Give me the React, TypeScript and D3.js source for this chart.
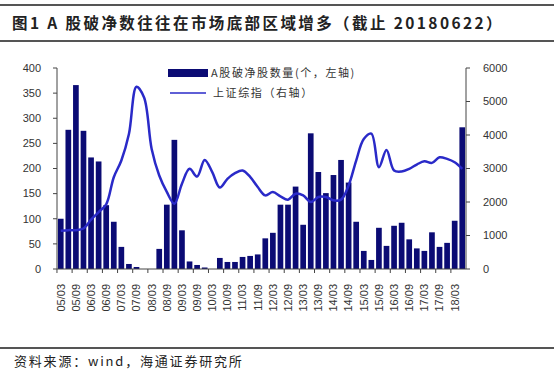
import React from 'react'
import * as d3 from 'd3'

// quarter-end dates, 2005Q1 .. 2018Q2
const quarters: string[] = []
for (let y = 5; y <= 18; y++) {
  for (const m of ['03', '06', '09', '12']) {
    if (y === 18 && (m === '09' || m === '12')) continue
    quarters.push(`${String(y).padStart(2, '0')}/${m}`)
  }
}

// A股破净股数量（个，左轴）
const pbBelowOne = [
  100, 277, 366, 275, 222, 214, 127, 94, 44, 10, 4, 0, 0, 40, 128, 257,
  77, 15, 8, 3, 0, 22, 14, 14, 24, 26, 29, 61, 72, 128, 128, 164,
  88, 270, 193, 151, 187, 217, 172, 94, 36, 18, 82, 46, 86, 92, 59, 41,
  36, 73, 44, 52, 96, 282
]

// 上证综指（右轴）
const shIndex = [
  1140, 1160, 1160, 1210, 1475, 1700, 1930, 2740, 3240, 4030, 5440, 5120, 3580, 2790, 2300, 1950,
  2545, 2990, 2760, 3257, 2890, 2430, 2690, 2860, 2940, 2750, 2446, 2198, 2297, 2168, 2070, 2248,
  2198, 2000, 2148, 2148, 2050, 2070, 2495, 3238, 3880, 4040, 3040, 3555, 2940, 2911, 2990, 3119,
  3217, 3168, 3336, 3287, 3187, 2990
]

const leftTicks = [0, 50, 100, 150, 200, 250, 300, 350, 400]
const rightTicks = [0, 1000, 2000, 3000, 4000, 5000, 6000]

const W = 554
const H = 374
const plot = { left: 57, right: 466, top: 68, bottom: 269 }

const barColor = '#0b0b74'
const lineColor = '#2a2ac8'
const textColor = '#333'
const cjk = "'Noto Sans CJK SC', sans-serif"

export default function App() {
  const x = d3.scaleBand<string>()
    .domain(quarters)
    .range([plot.left, plot.right])
    .paddingInner(0.25)
    .paddingOuter(0.12)
  const yL = d3.scaleLinear().domain([0, 400]).range([plot.bottom, plot.top])
  const yR = d3.scaleLinear().domain([0, 6000]).range([plot.bottom, plot.top])

  const line = d3.line<number>()
    .x((_, i) => (x(quarters[i]) as number) + x.bandwidth() / 2)
    .y(d => yR(d))
    .curve(d3.curveCatmullRom.alpha(0.5))

  const step = x.step()

  return (
    <svg width={W} height={H} style={{ position: 'absolute', left: 0, top: 0, background: '#fff' }}
      fontFamily="Arial, 'Liberation Sans', sans-serif">
      {/* title bar */}
      <line x1={0} x2={W} y1={5} y2={5} stroke="#555" strokeWidth={2} />
      <text x={12} y={29} fontSize={15.5} fontWeight="bold" fill="#222" fontFamily={cjk}
        letterSpacing={2.4}>
        图1  A 股破净数往往在市场底部区域增多（截止 20180622）
      </text>
      <line x1={0} x2={W} y1={41} y2={41} stroke="#555" strokeWidth={2} />

      {/* bars */}
      {pbBelowOne.map((v, i) => (
        <rect key={quarters[i]} x={x(quarters[i])} y={yL(v)} width={x.bandwidth()}
          height={plot.bottom - yL(v)} fill={barColor} />
      ))}

      {/* index line */}
      <path d={line(shIndex) || ''} fill="none" stroke={lineColor} strokeWidth={2.5} />

      {/* left axis */}
      <line x1={plot.left} x2={plot.left} y1={plot.top} y2={plot.bottom} stroke="#444" />
      {leftTicks.map(t => (
        <g key={t}>
          <line x1={plot.left - 4} x2={plot.left} y1={yL(t)} y2={yL(t)} stroke="#444" />
          <text x={41} y={yL(t)} dy="0.35em" textAnchor="end" fontSize={11} fill={textColor}>{t}</text>
        </g>
      ))}

      {/* right axis */}
      <line x1={plot.right} x2={plot.right} y1={plot.top} y2={plot.bottom} stroke="#444" />
      {rightTicks.map(t => (
        <g key={t}>
          <line x1={plot.right} x2={plot.right + 4} y1={yR(t)} y2={yR(t)} stroke="#444" />
          <text x={483} y={yR(t)} dy="0.35em" textAnchor="start" fontSize={11} fill={textColor}>{t}</text>
        </g>
      ))}

      {/* x axis */}
      <line x1={plot.left} x2={plot.right} y1={plot.bottom} y2={plot.bottom} stroke="#444" />
      {quarters.map((q, i) => {
        if (i % 2 !== 0) return null
        const cx = (x(q) as number) + x.bandwidth() / 2
        const tx = (x(q) as number) - step * x.paddingInner() / 2
        return (
          <g key={q}>
            <line x1={tx} x2={tx} y1={plot.bottom} y2={plot.bottom + 4} stroke="#444" />
            <text transform={`translate(${cx},${284}) rotate(-90)`} dy="0.35em" textAnchor="end"
              fontSize={11} fill={textColor}>{q}</text>
          </g>
        )
      })}

      {/* legend */}
      <rect x={168} y={69} width={40} height={8} fill={barColor} />
      <text x={211} y={73} dy="0.35em" fontSize={11} fill={textColor} fontFamily={cjk}
        letterSpacing={1.6}>A股破净股数量(个，左轴)</text>
      <line x1={170} x2={206} y1={93} y2={93} stroke={lineColor} strokeWidth={1.5} />
      <text x={213} y={93} dy="0.35em" fontSize={11} fill={textColor} fontFamily={cjk}
        letterSpacing={1.6}>上证综指（右轴）</text>

      {/* source */}
      <line x1={0} x2={W} y1={348} y2={348} stroke="#555" strokeWidth={2} />
      <text x={14} y={366} fontSize={13} fill="#222" fontFamily={cjk}
        letterSpacing={1.8}>资料来源：wind，海通证券研究所</text>
    </svg>
  )
}
